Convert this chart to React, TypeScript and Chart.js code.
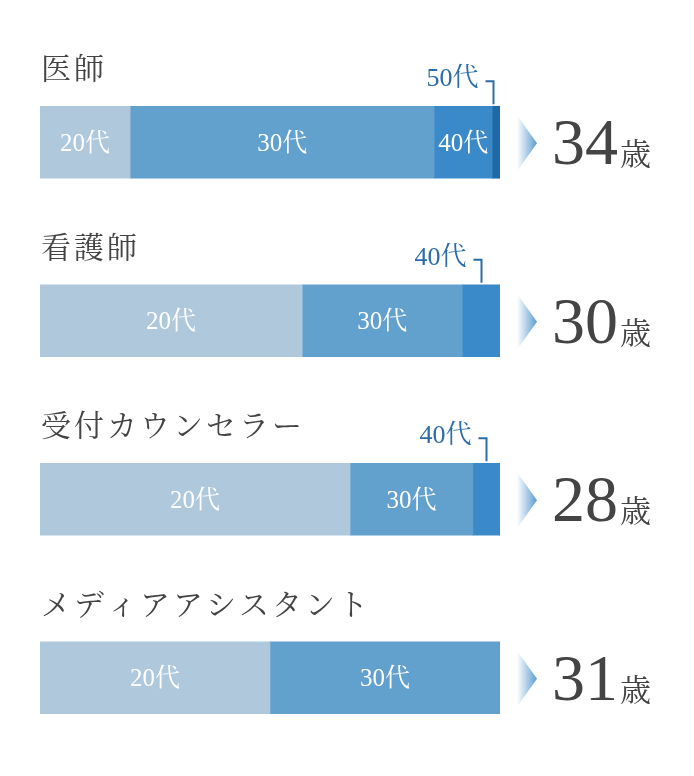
import React, { useEffect, useRef } from "react";
import { Chart, registerables } from "chart.js";

Chart.register(...registerables);

const categories = ["医師", "看護師", "受付カウンセラー", "メディアアシスタント"];
const ages = [34, 30, 28, 31];
const ageUnit = "歳";
const seriesNames = ["20代", "30代", "40代", "50代"];
const s20 = [19.6, 57.0, 67.4, 50];
const s30 = [66.1, 34.8, 26.7, 50];
const s40 = [12.6, 8.2, 5.9, 0];
const s50 = [1.7, 0, 0, 0];
const seriesColors = ["#b0c8dc", "#62a0ce", "#3a89c8", "#1f69a6"];

const FONT = '"Liberation Serif", "Noto Serif CJK JP", "Noto Sans CJK JP", serif';
const LABEL_BLUE = "#2b6ca9";
const DARK = "#444444";

const overlayPlugin = {
  id: "overlay",
  afterDatasetsDraw(chart: any) {
    const ctx = chart.ctx as CanvasRenderingContext2D;
    const nCat = categories.length;
    for (let i = 0; i < nCat; i++) {
      let cy = 0;
      let top = 0;
      chart.data.datasets.forEach((ds: any, di: number) => {
        const meta = chart.getDatasetMeta(di);
        const el = meta.data[i];
        if (!el) return;
        const v = ds.data[i];
        const left = Math.min(el.base, el.x);
        const rgt = Math.max(el.base, el.x);
        const h = el.height;
        cy = el.y;
        top = el.y - h / 2;
        if (!v) return;
        const w = rgt - left;
        const cx = (left + rgt) / 2;
        ctx.save();
        if (w > 50) {
          ctx.fillStyle = "#ffffff";
          ctx.font = `25px ${FONT}`;
          ctx.textAlign = "center";
          ctx.textBaseline = "middle";
          ctx.fillText(seriesNames[di], cx, cy + 2);
        } else {
          const vx = Math.round(cx - (w < 15 ? 3 : 0)) + 0.5;
          const ly = top - 25;
          ctx.strokeStyle = LABEL_BLUE;
          ctx.lineWidth = 2;
          ctx.beginPath();
          ctx.moveTo(vx - 8, ly);
          ctx.lineTo(vx, ly);
          ctx.lineTo(vx, top - 2);
          ctx.stroke();
          ctx.fillStyle = LABEL_BLUE;
          ctx.font = `26px ${FONT}`;
          ctx.textAlign = "right";
          ctx.textBaseline = "middle";
          ctx.fillText(seriesNames[di], vx - 15, top - 27);
        }
        ctx.restore();
      });

      // category name
      ctx.save();
      ctx.fillStyle = DARK;
      ctx.font = `30px ${FONT}`;
      (ctx as any).letterSpacing = "3px";
      ctx.textAlign = "left";
      ctx.textBaseline = "middle";
      ctx.fillText(categories[i], chart.chartArea.left + 1, cy - 71);
      ctx.restore();

      // arrow
      const ax = chart.chartArea.right + 17;
      ctx.save();
      const g = ctx.createLinearGradient(ax, 0, ax + 20, 0);
      g.addColorStop(0, "rgba(255,255,255,1)");
      g.addColorStop(1, "#5a9cd1");
      ctx.fillStyle = g;
      ctx.beginPath();
      ctx.moveTo(ax, cy - 27);
      ctx.lineTo(ax + 20, cy + 1);
      ctx.lineTo(ax, cy + 29);
      ctx.closePath();
      ctx.fill();
      ctx.restore();

      // age
      ctx.save();
      ctx.fillStyle = DARK;
      ctx.textAlign = "left";
      ctx.textBaseline = "alphabetic";
      ctx.font = `66px ${FONT}`;
      const numX = chart.chartArea.right + 52;
      const numStr = String(ages[i]);
      ctx.fillText(numStr, numX, cy + 22);
      const nw = ctx.measureText(numStr).width;
      ctx.font = `31px ${FONT}`;
      ctx.fillText(ageUnit, numX + nw + 2, cy + 23);
      ctx.restore();
    }
  },
};

export default function App() {
  const ref = useRef<HTMLCanvasElement | null>(null);
  useEffect(() => {
    if (!ref.current) return;
    const data = [s20, s30, s40, s50];
    const chart = new Chart(ref.current, {
      type: "bar",
      data: {
        labels: categories,
        datasets: seriesNames.map((name, k) => ({
          label: name,
          data: data[k],
          backgroundColor: seriesColors[k],
          borderWidth: 0,
          barThickness: 72,
        })),
      },
      options: {
        indexAxis: "y",
        responsive: false,
        animation: false,
        layout: { padding: { left: 40, right: 194, top: 53, bottom: 9 } },
        scales: {
          x: { stacked: true, min: 0, max: 100, display: false },
          y: { stacked: true, display: false },
        },
        plugins: {
          legend: { display: false },
          tooltip: { enabled: false },
        },
      },
      plugins: [overlayPlugin],
    } as any);
    return () => chart.destroy();
  }, []);
  return (
    <div style={{ position: "fixed", left: 0, top: 0, width: 694, height: 776, background: "#fff" }}>
      <canvas ref={ref} width={694} height={776} style={{ width: 694, height: 776 }} />
    </div>
  );
}
